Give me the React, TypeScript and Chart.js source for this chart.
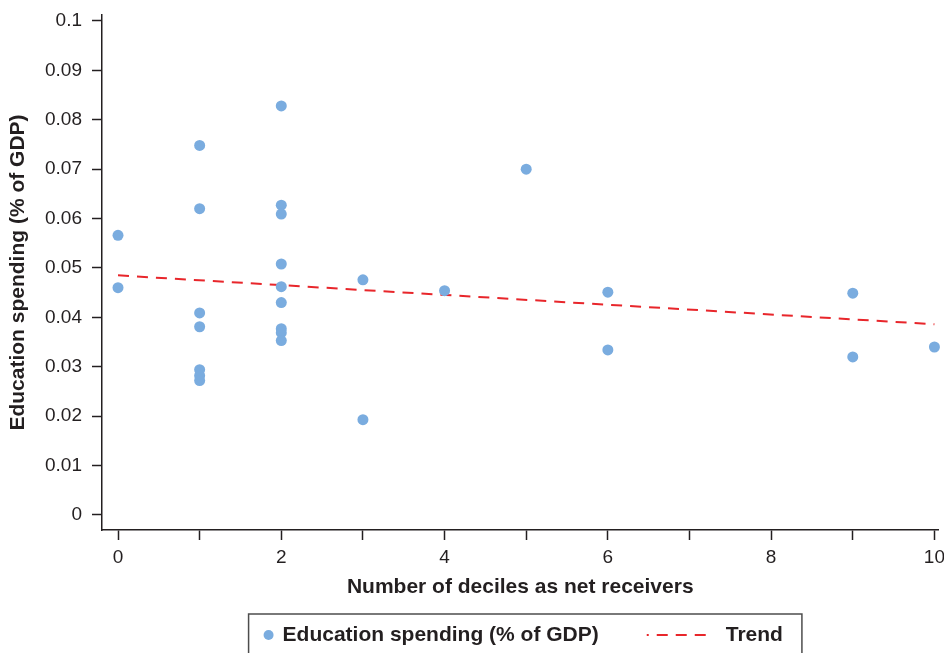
import { useEffect, useRef } from "react";
import { Chart, registerables } from "chart.js";

Chart.register(...registerables);

// ---- data ----
const deciles = [
  0, 0,
  1, 1, 1, 1, 1, 1, 1,
  2, 2, 2, 2, 2, 2, 2, 2, 2,
  3, 3,
  4,
  5,
  6, 6,
  9, 9,
  10,
];
const spending = [
  0.0566, 0.046,
  0.0748, 0.062, 0.0409, 0.0381, 0.0294, 0.0282, 0.0272,
  0.0828, 0.0627, 0.0609, 0.0508, 0.0462, 0.043, 0.0377, 0.0369, 0.0353,
  0.0476, 0.0193,
  0.0454,
  0.07,
  0.0451, 0.0334,
  0.0449, 0.032,
  0.034,
];
const trendDeciles = [0, 10];
const trendSpending = [0.0485, 0.0386];

const xTickValues = [0, 1, 2, 3, 4, 5, 6, 7, 8, 9, 10];
const xTickLabels = ["0", "", "2", "", "4", "", "6", "", "8", "", "10"];
const yTickValues = [0, 0.01, 0.02, 0.03, 0.04, 0.05, 0.06, 0.07, 0.08, 0.09, 0.1];
const yTickLabels = ["0", "0.01", "0.02", "0.03", "0.04", "0.05", "0.06", "0.07", "0.08", "0.09", "0.1"];

const seriesLabel = "Education spending (% of GDP)";
const trendLabel = "Trend";
const xTitle = "Number of deciles as net receivers";
const yTitle = "Education spending (% of GDP)";

const FONT = "'Liberation Sans', Arial, Helvetica, sans-serif";
const INK = "#231f20";
const DOT = "#7aacdf";
const RED = "#e8262b";

const boxedLegend = {
  id: "boxedLegend",
  afterDraw(chart: any) {
    const ctx: CanvasRenderingContext2D = chart.ctx;
    const ds = chart.data.datasets;
    const t1 = String(ds[0].label);
    const t2 = String(ds[1].label);
    ctx.save();
    ctx.font = `bold 21px ${FONT}`;
    const w1 = ctx.measureText(t1).width;
    const w2 = ctx.measureText(t2).width;
    const total = 20 + 14 + w1 + 48 + 66 + 13 + w2 + 19;
    const xs = chart.scales.x;
    const cx = (xs.left + xs.right) / 2 + 5;
    const left = cx - total / 2;
    const top = 606;
    const midY = 627;
    ctx.strokeStyle = "#4d4d4d";
    ctx.lineWidth = 1.5;
    ctx.strokeRect(left, top, total, chart.height - top + 20);
    // dot
    ctx.fillStyle = DOT;
    ctx.beginPath();
    ctx.arc(left + 20, midY, 5, 0, Math.PI * 2);
    ctx.fill();
    // text 1
    ctx.fillStyle = INK;
    ctx.textBaseline = "middle";
    ctx.textAlign = "left";
    const tx1 = left + 34;
    ctx.fillText(t1, tx1, midY);
    // trend sample
    const sx = tx1 + w1 + 48;
    ctx.strokeStyle = RED;
    ctx.lineWidth = 2;
    ctx.setLineDash([11, 8]);
    ctx.lineDashOffset = 9;
    ctx.beginPath();
    ctx.moveTo(sx, midY);
    ctx.lineTo(sx + 66, midY);
    ctx.stroke();
    ctx.setLineDash([]);
    ctx.fillStyle = INK;
    ctx.fillText(t2, sx + 66 + 13, midY);
    ctx.restore();
  },
};

export default function App() {
  const ref = useRef<HTMLCanvasElement | null>(null);

  useEffect(() => {
    if (!ref.current) return;
    const chart = new Chart(ref.current, {
      type: "scatter",
      data: {
        datasets: [
          {
            label: seriesLabel,
            data: deciles.map((d, i) => ({ x: d, y: spending[i] })),
            backgroundColor: DOT,
            borderWidth: 0,
            pointRadius: 5.5,
            pointHoverRadius: 5.5,
            clip: false,
          } as any,
          {
            type: "line",
            label: trendLabel,
            data: trendDeciles.map((d, i) => ({ x: d, y: trendSpending[i] })),
            borderColor: RED,
            borderWidth: 2,
            borderDash: [11, 8],
            pointRadius: 0,
            fill: false,
            clip: false,
          } as any,
        ],
      },
      options: {
        animation: false,
        responsive: true,
        maintainAspectRatio: false,
        layout: { padding: { top: 7, right: 0, bottom: 55.5, left: 0 } },
        plugins: {
          legend: { display: false },
          tooltip: { enabled: false },
        },
        scales: {
          x: {
            type: "linear",
            min: -0.196,
            max: 10.05,
            afterBuildTicks: (s: any) => {
              s.ticks = xTickValues.map((v) => ({ value: v }));
            },
            afterFit: (s: any) => {
              s.height = 67.5;
              s.paddingLeft = 0;
              s.paddingRight = 0;
            },
            ticks: {
              autoSkip: false,
              maxRotation: 0,
              padding: 6,
              color: INK,
              font: { family: FONT, size: 19 },
              callback: (_v: any, i: number) => xTickLabels[i],
            },
            grid: {
              display: true,
              drawOnChartArea: false,
              drawTicks: true,
              tickLength: 10,
              tickWidth: 1.5,
              tickColor: INK,
              color: INK,
            },
            border: { display: true, color: INK, width: 1.5 },
            title: {
              display: true,
              text: xTitle,
              color: INK,
              padding: 0,
              font: { family: FONT, size: 21, weight: "bold", lineHeight: 1 },
            },
          },
          y: {
            type: "linear",
            min: -0.00304,
            max: 0.1012,
            afterBuildTicks: (s: any) => {
              s.ticks = yTickValues.map((v) => ({ value: v }));
            },
            afterFit: (s: any) => {
              s.width = 94;
              s.paddingTop = 0;
              s.paddingBottom = 0;
            },
            ticks: {
              autoSkip: false,
              padding: 10,
              color: INK,
              font: { family: FONT, size: 19 },
              callback: (_v: any, i: number) => yTickLabels[i],
            },
            grid: {
              display: true,
              drawOnChartArea: false,
              drawTicks: true,
              tickLength: 10,
              tickWidth: 1.5,
              tickColor: INK,
              color: INK,
            },
            border: { display: true, color: INK, width: 1.5 },
            title: {
              display: true,
              text: yTitle,
              color: INK,
              padding: 0,
              font: { family: FONT, size: 21, weight: "bold", lineHeight: 1 },
            },
          },
        },
      },
      plugins: [boxedLegend],
    });
    return () => chart.destroy();
  }, []);

  return (
    <div style={{ width: "100%", height: "645px", position: "relative" }}>
      <canvas ref={ref} />
    </div>
  );
}
